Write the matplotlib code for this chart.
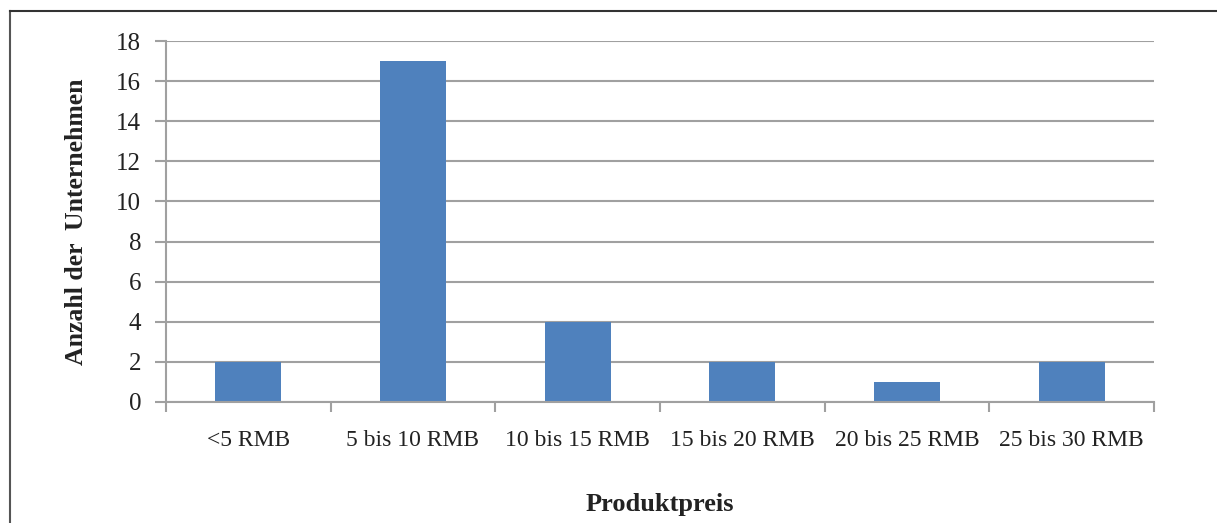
import matplotlib.pyplot as plt
from matplotlib.lines import Line2D
import numpy as np

categories = ["<5 RMB", "5 bis 10 RMB", "10 bis 15 RMB", "15 bis 20 RMB",
              "20 bis 25 RMB", "25 bis 30 RMB"]
counts = [2, 17, 4, 2, 1, 2]
y_ticks = [0, 2, 4, 6, 8, 10, 12, 14, 16, 18]

plt.rcParams['font.family'] = ['Liberation Serif', 'DejaVu Serif']

W, H = 1217, 523
fig = plt.figure(figsize=(W / 100, H / 100), dpi=100)
ax = fig.add_axes([166 / W, 1 - 402 / H, (1154 - 166) / W, (402 - 41) / H])

grid_col = '#a0a0a0'
x = np.arange(len(categories))
ax.bar(x, counts, width=0.4, color='#4f81bd', zorder=3)

ax.set_xlim(-0.5, len(categories) - 0.5)
ax.set_ylim(0, 18)
ax.set_yticks(y_ticks)
ax.yaxis.grid(True, color=grid_col, linewidth=1.5, zorder=0)
ax.tick_params(axis='y', direction='out', length=8, width=1.5, color=grid_col,
               labelsize=18, pad=10, labelcolor='#222222')

# category boundaries as major ticks, names centered as minor ticks
ax.set_xticks(np.arange(-0.5, len(categories), 1.0))
ax.set_xticklabels([])
ax.set_xticks(x, minor=True)
ax.set_xticklabels(categories, minor=True)
ax.tick_params(axis='x', which='major', direction='out', length=7, width=1.5, color=grid_col)
ax.tick_params(axis='x', which='minor', length=0, pad=20, labelsize=17, labelcolor='#222222')

for s in ['top', 'right']:
    ax.spines[s].set_visible(False)
for s in ['left', 'bottom']:
    ax.spines[s].set_color(grid_col)
    ax.spines[s].set_linewidth(1.5)
    ax.spines[s].set_zorder(4)

ax.set_ylabel("Anzahl der  Unternehmen", fontsize=18.5, fontweight='bold', color='#222222')
ax.yaxis.set_label_coords(-0.079, 0.5)
ax.set_xlabel("Produktpreis", fontsize=19, fontweight='bold', color='#222222')
ax.xaxis.set_label_coords(0.5, -0.252)

# outer chart frame (only left and top edges visible)
fig.add_artist(Line2D([9.5 / W, 9.5 / W], [0, 1 - 11 / H], transform=fig.transFigure,
                      color='#555555', linewidth=1.5))
fig.add_artist(Line2D([9.5 / W, 1], [1 - 11 / H, 1 - 11 / H], transform=fig.transFigure,
                      color='#333333', linewidth=1.5))

fig.savefig('out.png', dpi=100)
